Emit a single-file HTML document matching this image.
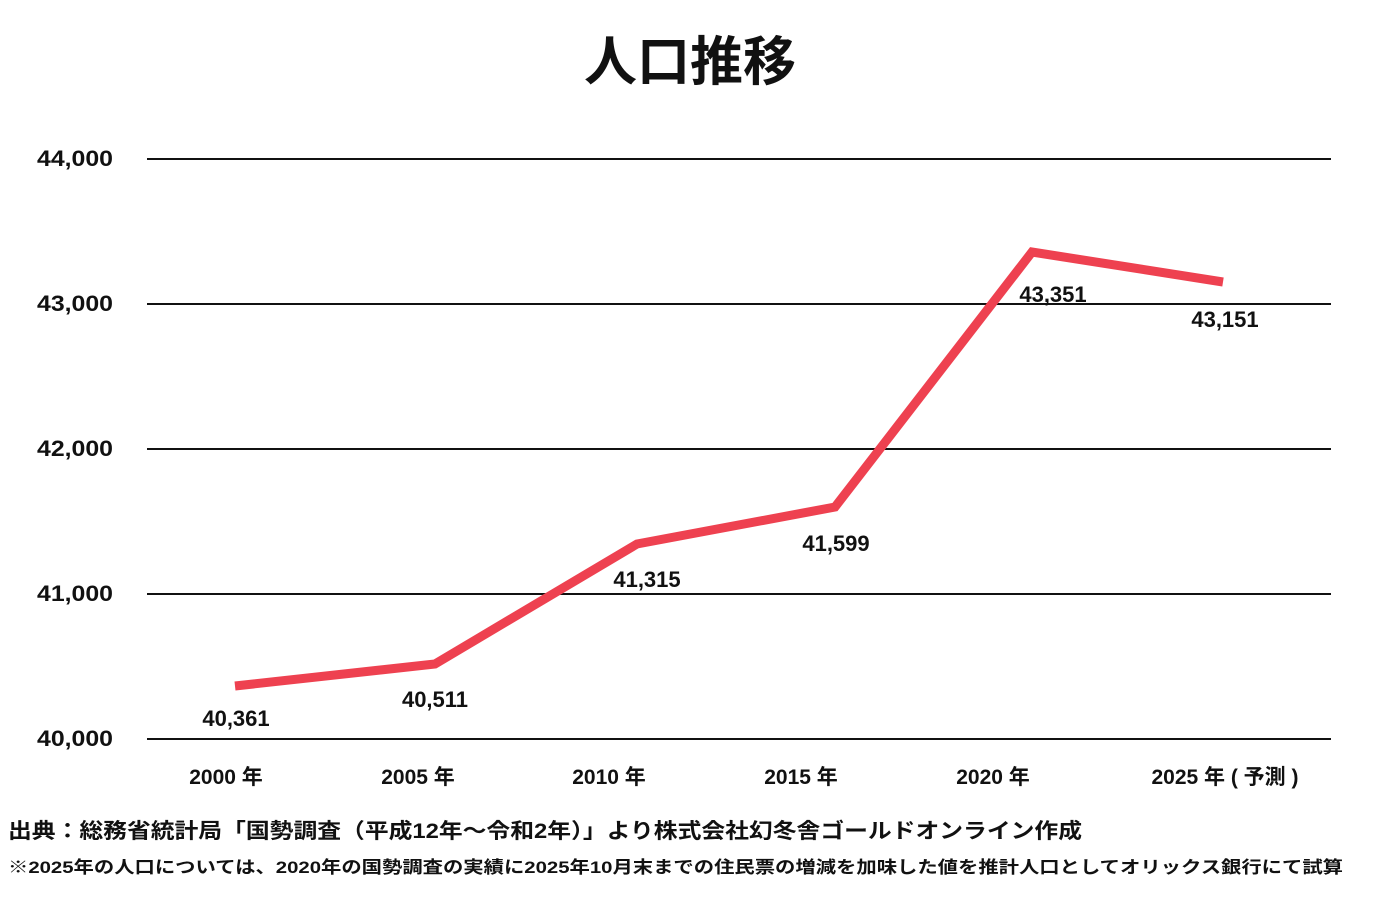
<!DOCTYPE html>
<html><head><meta charset="utf-8">
<style>
html,body{margin:0;padding:0;background:#fff;}
body{width:1379px;height:919px;overflow:hidden;position:relative;font-family:"Liberation Sans","Noto Sans CJK JP",sans-serif;}
svg text{font-family:"Liberation Sans","Noto Sans CJK JP",sans-serif;font-weight:bold;fill:#111;}
</style></head><body>
<svg width="1379" height="919" xmlns="http://www.w3.org/2000/svg">
<text x="690" y="80" font-size="53" text-anchor="middle">人口推移</text>
<g stroke="#111" stroke-width="2">
<line x1="147" y1="159" x2="1331" y2="159"/>
<line x1="147" y1="304" x2="1331" y2="304"/>
<line x1="147" y1="449" x2="1331" y2="449"/>
<line x1="147" y1="594" x2="1331" y2="594"/>
<line x1="147" y1="739" x2="1331" y2="739"/>
</g>
<g font-size="22" text-anchor="end">
<text x="113" y="166" textLength="76" lengthAdjust="spacingAndGlyphs">44,000</text>
<text x="113" y="311" textLength="76" lengthAdjust="spacingAndGlyphs">43,000</text>
<text x="113" y="456" textLength="76" lengthAdjust="spacingAndGlyphs">42,000</text>
<text x="113" y="601" textLength="76" lengthAdjust="spacingAndGlyphs">41,000</text>
<text x="113" y="746" textLength="76" lengthAdjust="spacingAndGlyphs">40,000</text>
</g>
<polyline points="235,686 435,664 637,544 835,507 1032,252 1223,282" fill="none" stroke="#ee4150" stroke-width="9" stroke-linejoin="miter"/>
<g font-size="22" text-anchor="middle">
<text x="236" y="726">40,361</text>
<text x="435" y="707">40,511</text>
<text x="647" y="587">41,315</text>
<text x="836" y="551">41,599</text>
<text x="1053" y="302">43,351</text>
<text x="1225" y="327">43,151</text>
</g>
<g font-size="21" text-anchor="middle">
<text x="226" y="784">2000 年</text>
<text x="418" y="784">2005 年</text>
<text x="609" y="784">2010 年</text>
<text x="801" y="784">2015 年</text>
<text x="993" y="784">2020 年</text>
<text x="1225" y="784">2025 年 ( 予測 )</text>
</g>
<text x="8" y="838" font-size="21" textLength="1074" lengthAdjust="spacingAndGlyphs">出典：総務省統計局「国勢調査（平成12年～令和2年）」より株式会社幻冬舎ゴールドオンライン作成</text>
<text x="8" y="873" font-size="17" textLength="1335" lengthAdjust="spacingAndGlyphs">※2025年の人口については、2020年の国勢調査の実績に2025年10月末までの住民票の増減を加味した値を推計人口としてオリックス銀行にて試算</text>
</svg>
</body></html>
